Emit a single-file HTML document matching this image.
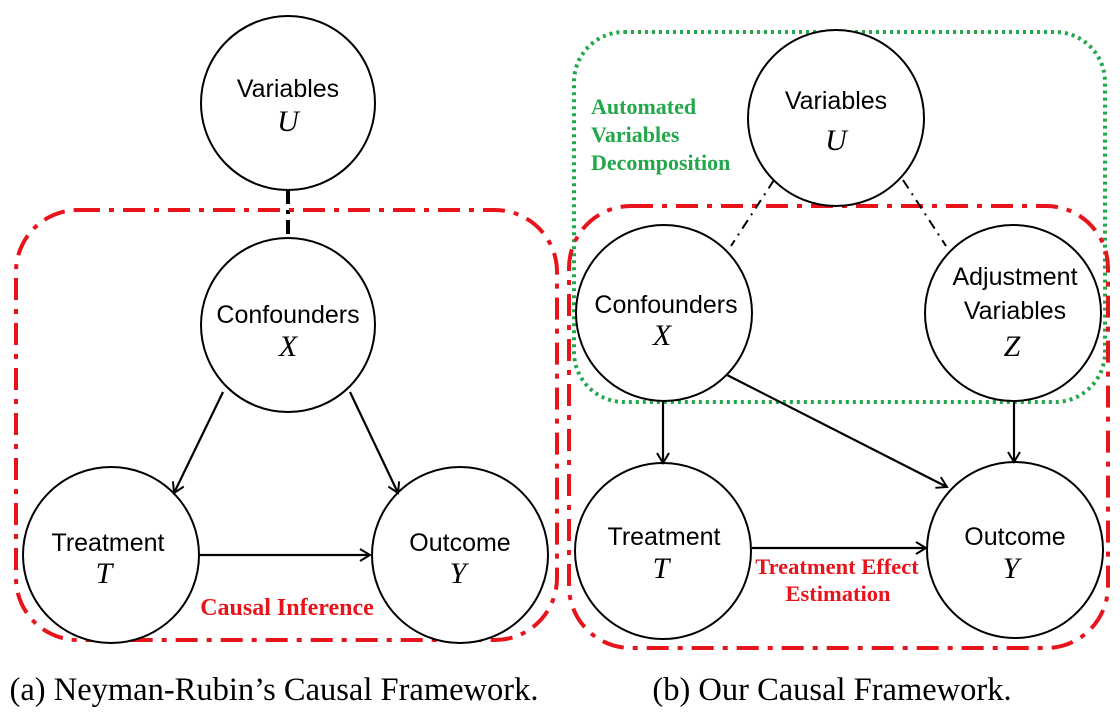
<!DOCTYPE html>
<html><head><meta charset="utf-8"><style>
html,body{margin:0;padding:0;background:#fff;}
svg{display:block;}
.lb{font-family:"Liberation Sans",sans-serif;font-size:25px;fill:#000;text-anchor:middle;}
.mv{font-family:"Liberation Serif",serif;font-style:italic;font-size:30px;fill:#000;text-anchor:middle;}
.rt{font-family:"Liberation Serif",serif;font-weight:bold;font-size:22.5px;fill:#e8141c;text-anchor:middle;}
.gt{font-family:"Liberation Serif",serif;font-weight:bold;font-size:22px;fill:#22a84a;}
.cap{font-family:"Liberation Serif",serif;font-size:32.5px;fill:#000;text-anchor:middle;}
circle{fill:#fff;stroke:#000;stroke-width:2;}
.ar{stroke:#000;stroke-width:2.2;fill:none;marker-end:url(#ah);}
</style></head><body>
<svg width="1120" height="714" viewBox="0 0 1120 714" xmlns="http://www.w3.org/2000/svg">
<defs><marker id="ah" markerWidth="14" markerHeight="14" refX="11" refY="7" orient="auto" markerUnits="userSpaceOnUse"><path d="M1,1 L11,7 L1,13" fill="none" stroke="#000" stroke-width="2"/></marker></defs>

<!-- LEFT -->
<line x1="288" y1="190" x2="288" y2="240" stroke="#000" stroke-width="4" stroke-dasharray="14 6 4 6"/>
<rect x="16" y="210" width="541" height="430" rx="62" fill="none" stroke="#e8141c" stroke-width="4" stroke-dasharray="22 9 5 9"/>
<circle cx="288" cy="103" r="87"/>
<text class="lb" x="288" y="97">Variables</text><text class="mv" x="288" y="131">U</text>
<circle cx="288" cy="325" r="87"/>
<text class="lb" x="288" y="323">Confounders</text><text class="mv" x="288" y="356">X</text>
<circle cx="111" cy="555" r="88"/>
<text class="lb" x="108" y="551">Treatment</text><text class="mv" x="104" y="583">T</text>
<circle cx="460" cy="555" r="88"/>
<text class="lb" x="460" y="551">Outcome</text><text class="mv" x="458" y="583">Y</text>
<line class="ar" x1="223" y1="392" x2="174" y2="493"/>
<line class="ar" x1="350" y1="392" x2="398" y2="493"/>
<line class="ar" x1="200" y1="555" x2="370" y2="555"/>
<text class="rt" x="287" y="615" style="font-size:24px">Causal Inference</text>
<text class="cap" x="274" y="700">(a) Neyman-Rubin’s Causal Framework.</text>

<!-- RIGHT -->
<rect x="574" y="32" width="531" height="370" rx="50" fill="none" stroke="#22a84a" stroke-width="4" stroke-dasharray="3 4"/>
<rect x="569" y="206" width="539" height="442" rx="62" fill="none" stroke="#e8141c" stroke-width="4" stroke-dasharray="22 9 5 9"/>
<line x1="774" y1="180" x2="731" y2="246" stroke="#000" stroke-width="2" stroke-dasharray="10 6 2 6"/>
<line x1="903" y1="180" x2="946" y2="246" stroke="#000" stroke-width="2" stroke-dasharray="10 6 2 6"/>
<circle cx="836" cy="118" r="88" fill="none"/>
<text class="lb" x="836" y="109">Variables</text><text class="mv" x="836" y="150">U</text>
<text class="gt" x="591" y="114">Automated</text>
<text class="gt" x="591" y="142">Variables</text>
<text class="gt" x="591" y="170">Decomposition</text>
<circle cx="664" cy="313" r="88" fill="none"/>
<text class="lb" x="666" y="313">Confounders</text><text class="mv" x="662" y="345">X</text>
<circle cx="1013" cy="313" r="88" fill="none"/>
<text class="lb" x="1015" y="285">Adjustment</text><text class="lb" x="1015" y="319">Variables</text><text class="mv" x="1012" y="356">Z</text>
<circle cx="663" cy="551" r="88"/>
<text class="lb" x="664" y="545">Treatment</text><text class="mv" x="661" y="578">T</text>
<circle cx="1015" cy="550" r="88"/>
<text class="lb" x="1015" y="545">Outcome</text><text class="mv" x="1011" y="578">Y</text>
<line class="ar" x1="663" y1="402" x2="663" y2="463"/>
<line class="ar" x1="1014" y1="402" x2="1014" y2="462"/>
<line class="ar" x1="727" y1="375" x2="947" y2="487"/>
<line class="ar" x1="752" y1="548" x2="926" y2="548"/>
<text class="rt" x="837" y="574">Treatment Effect</text>
<text class="rt" x="838" y="601">Estimation</text>
<text class="cap" x="832" y="700">(b) Our Causal Framework.</text>
</svg>
</body></html>
